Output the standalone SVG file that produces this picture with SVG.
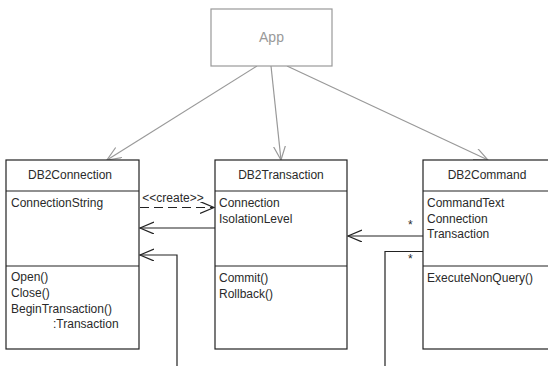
<svg xmlns="http://www.w3.org/2000/svg" width="548" height="366" viewBox="0 0 548 366">
<style>
.box{fill:#fff;stroke:#222;stroke-width:1.2}
.app{fill:#fff;stroke:#999;stroke-width:1.2}
text{font-family:"Liberation Sans",Arial,sans-serif;font-size:12px;fill:#2a2a2a}
.c{text-anchor:middle}
.g{fill:#999}
.ln{fill:none;stroke:#222;stroke-width:1.2}
.lg{fill:none;stroke:#999;stroke-width:1.2}
.dash{stroke-dasharray:9 5}
</style>
<defs>
<marker id="open" markerWidth="16" markerHeight="14" refX="14" refY="6" orient="auto" markerUnits="userSpaceOnUse">
<path d="M0,0 L14,6 L0,12" fill="none" stroke="#222" stroke-width="1.2"/>
</marker>
<marker id="openg" markerWidth="16" markerHeight="14" refX="14" refY="6" orient="auto" markerUnits="userSpaceOnUse">
<path d="M0,0 L14,6 L0,12" fill="none" stroke="#999" stroke-width="1.2"/>
</marker>
</defs>
<g id="connectors">
<line class="lg" x1="257" y1="66" x2="107" y2="160" marker-end="url(#openg)"/>
<line class="lg" x1="271" y1="66" x2="281" y2="160" marker-end="url(#openg)"/>
<line class="lg" x1="287" y1="66" x2="488" y2="160" marker-end="url(#openg)"/>
<line class="ln dash" x1="140" y1="207.5" x2="214" y2="207.5" marker-end="url(#open)"/>
<text class="c" x="173" y="202">&lt;&lt;create&gt;&gt;</text>
<line class="ln" x1="215" y1="228" x2="140" y2="228" marker-end="url(#open)"/>
<polyline class="ln" points="177,366 177,255 140,255" marker-end="url(#open)"/>
<line class="ln" x1="423" y1="236" x2="348" y2="236" marker-end="url(#open)"/>
<polyline class="ln" points="385,366 385,251.5 423,251.5"/>
<text x="408" y="229">*</text>
<text x="408" y="263">*</text>
</g>
<g id="App">
<rect class="app" x="211" y="9" width="121" height="57"/>
<text class="c g" x="271.5" y="42" style="font-size:14px">App</text>
</g>
<g id="DB2Connection">
<rect class="box" x="6" y="160" width="133" height="189"/>
<line class="ln" x1="6" y1="191" x2="139" y2="191"/>
<line class="ln" x1="6" y1="266" x2="139" y2="266"/>
<text class="c" x="70" y="179">DB2Connection</text>
<text x="11" y="207">ConnectionString</text>
<text x="11" y="281">Open()</text>
<text x="11" y="297">Close()</text>
<text x="11" y="312.5">BeginTransaction()</text>
<text x="53" y="328">:Transaction</text>
</g>
<g id="DB2Transaction">
<rect class="box" x="215" y="160" width="132" height="189"/>
<line class="ln" x1="215" y1="191" x2="347" y2="191"/>
<line class="ln" x1="215" y1="266" x2="347" y2="266"/>
<text class="c" x="281" y="179">DB2Transaction</text>
<text x="219" y="207">Connection</text>
<text x="219" y="223">IsolationLevel</text>
<text x="219" y="282">Commit()</text>
<text x="219" y="298">Rollback()</text>
</g>
<g id="DB2Command">
<rect class="box" x="423" y="160" width="132" height="189"/>
<line class="ln" x1="423" y1="191" x2="555" y2="191"/>
<line class="ln" x1="423" y1="266" x2="555" y2="266"/>
<text class="c" x="487" y="179">DB2Command</text>
<text x="427" y="207">CommandText</text>
<text x="427" y="222.5">Connection</text>
<text x="427" y="238">Transaction</text>
<text x="427" y="282">ExecuteNonQuery()</text>
</g>
</svg>
